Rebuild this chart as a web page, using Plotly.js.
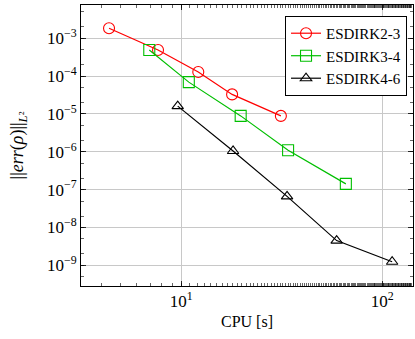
<!DOCTYPE html>
<html>
<head>
<meta charset="utf-8">
<script src="https://cdn.plot.ly/plotly-3.0.1.min.js"></script>
<style>html,body{margin:0;padding:0;background:#fff;}#chart{width:415px;height:339px;}</style>
</head>
<body>
<div id="chart"></div>
<script>
const names = ["ESDIRK2-3", "ESDIRK3-4", "ESDIRK4-6"];
const cpu23 = [4.37, 7.66, 12.15, 17.9, 31.3];
const err23 = [1.84e-3, 4.9e-4, 1.29e-4, 3.29e-5, 8.9e-6];
const cpu34 = [6.93, 10.9, 19.75, 34.0, 65.9];
const err34 = [4.9e-4, 6.94e-5, 8.9e-6, 1.1e-6, 1.42e-7];
const cpu46 = [9.6, 18.1, 33.6, 59.3, 112];
const err46 = [1.61e-5, 1.05e-6, 6.65e-8, 4.5e-9, 1.24e-9];
const xTickVals = [10, 100];
const xTickText = ["10<sup>1</sup>", "10<sup>2</sup>"];
const yTickVals = [1e-9, 1e-8, 1e-7, 1e-6, 1e-5, 1e-4, 1e-3];
const yTickText = ["10<sup>−9</sup>", "10<sup>−8</sup>", "10<sup>−7</sup>", "10<sup>−6</sup>", "10<sup>−5</sup>", "10<sup>−4</sup>", "10<sup>−3</sup>"];

const FONT = "Liberation Serif, DejaVu Serif, serif";
function tr(x, y, name, color, symbol, size) {
  return {x: x, y: y, name: name, type: "scatter", mode: "lines+markers",
    line: {color: color, width: 1.2},
    marker: {symbol: symbol, size: size, color: color, line: {color: color, width: 1.1}}};
}
const data = [
  tr(cpu23, err23, names[0], "#ff0000", "circle-open", 11),
  tr(cpu34, err34, names[1], "#00bf00", "square-open", 11),
  tr(cpu46, err46, names[2], "#000000", "triangle-up-open", 10)
];
const axisCommon = {
  type: "log", showline: true, linecolor: "#000", linewidth: 1, mirror: "allticks",
  ticks: "inside", ticklen: 5, tickcolor: "#000", tickwidth: 0.8,
  showgrid: true, gridcolor: "#c8c8c8", gridwidth: 1, zeroline: false,
  tickfont: {family: FONT, size: 17, color: "#000"},
  minor: {ticks: "inside", ticklen: 3, tickcolor: "#000", tickwidth: 0.6, showgrid: false}
};
const layout = {
  width: 415, height: 339,
  margin: {l: 81, r: 2, t: 5, b: 53},
  paper_bgcolor: "#fff", plot_bgcolor: "#fff",
  font: {family: FONT, color: "#000"},
  showlegend: true,
  xaxis: Object.assign({}, axisCommon, {
    range: [0.501, 2.153], tickmode: "array", tickvals: xTickVals, ticktext: xTickText,
    title: {text: "CPU [s]", font: {family: FONT, size: 16}, standoff: 5}
  }),
  yaxis: Object.assign({}, axisCommon, {
    range: [-9.547, -2.12], tickmode: "array", tickvals: yTickVals, ticktext: yTickText,
    title: {text: "||<i>err</i>(<i>ρ</i>)||<sub><i>L</i>²</sub>", font: {family: FONT, size: 18}, standoff: 18}
  }),
  legend: {
    x: 0.982, xanchor: "right", y: 0.961, yanchor: "top",
    bgcolor: "#fff", bordercolor: "#000", borderwidth: 1,
    font: {family: FONT, size: 15, color: "#000"},
    tracegroupgap: 0
  }
};
Plotly.newPlot("chart", data, layout, {staticPlot: true, displayModeBar: false});
</script>
</body>
</html>
